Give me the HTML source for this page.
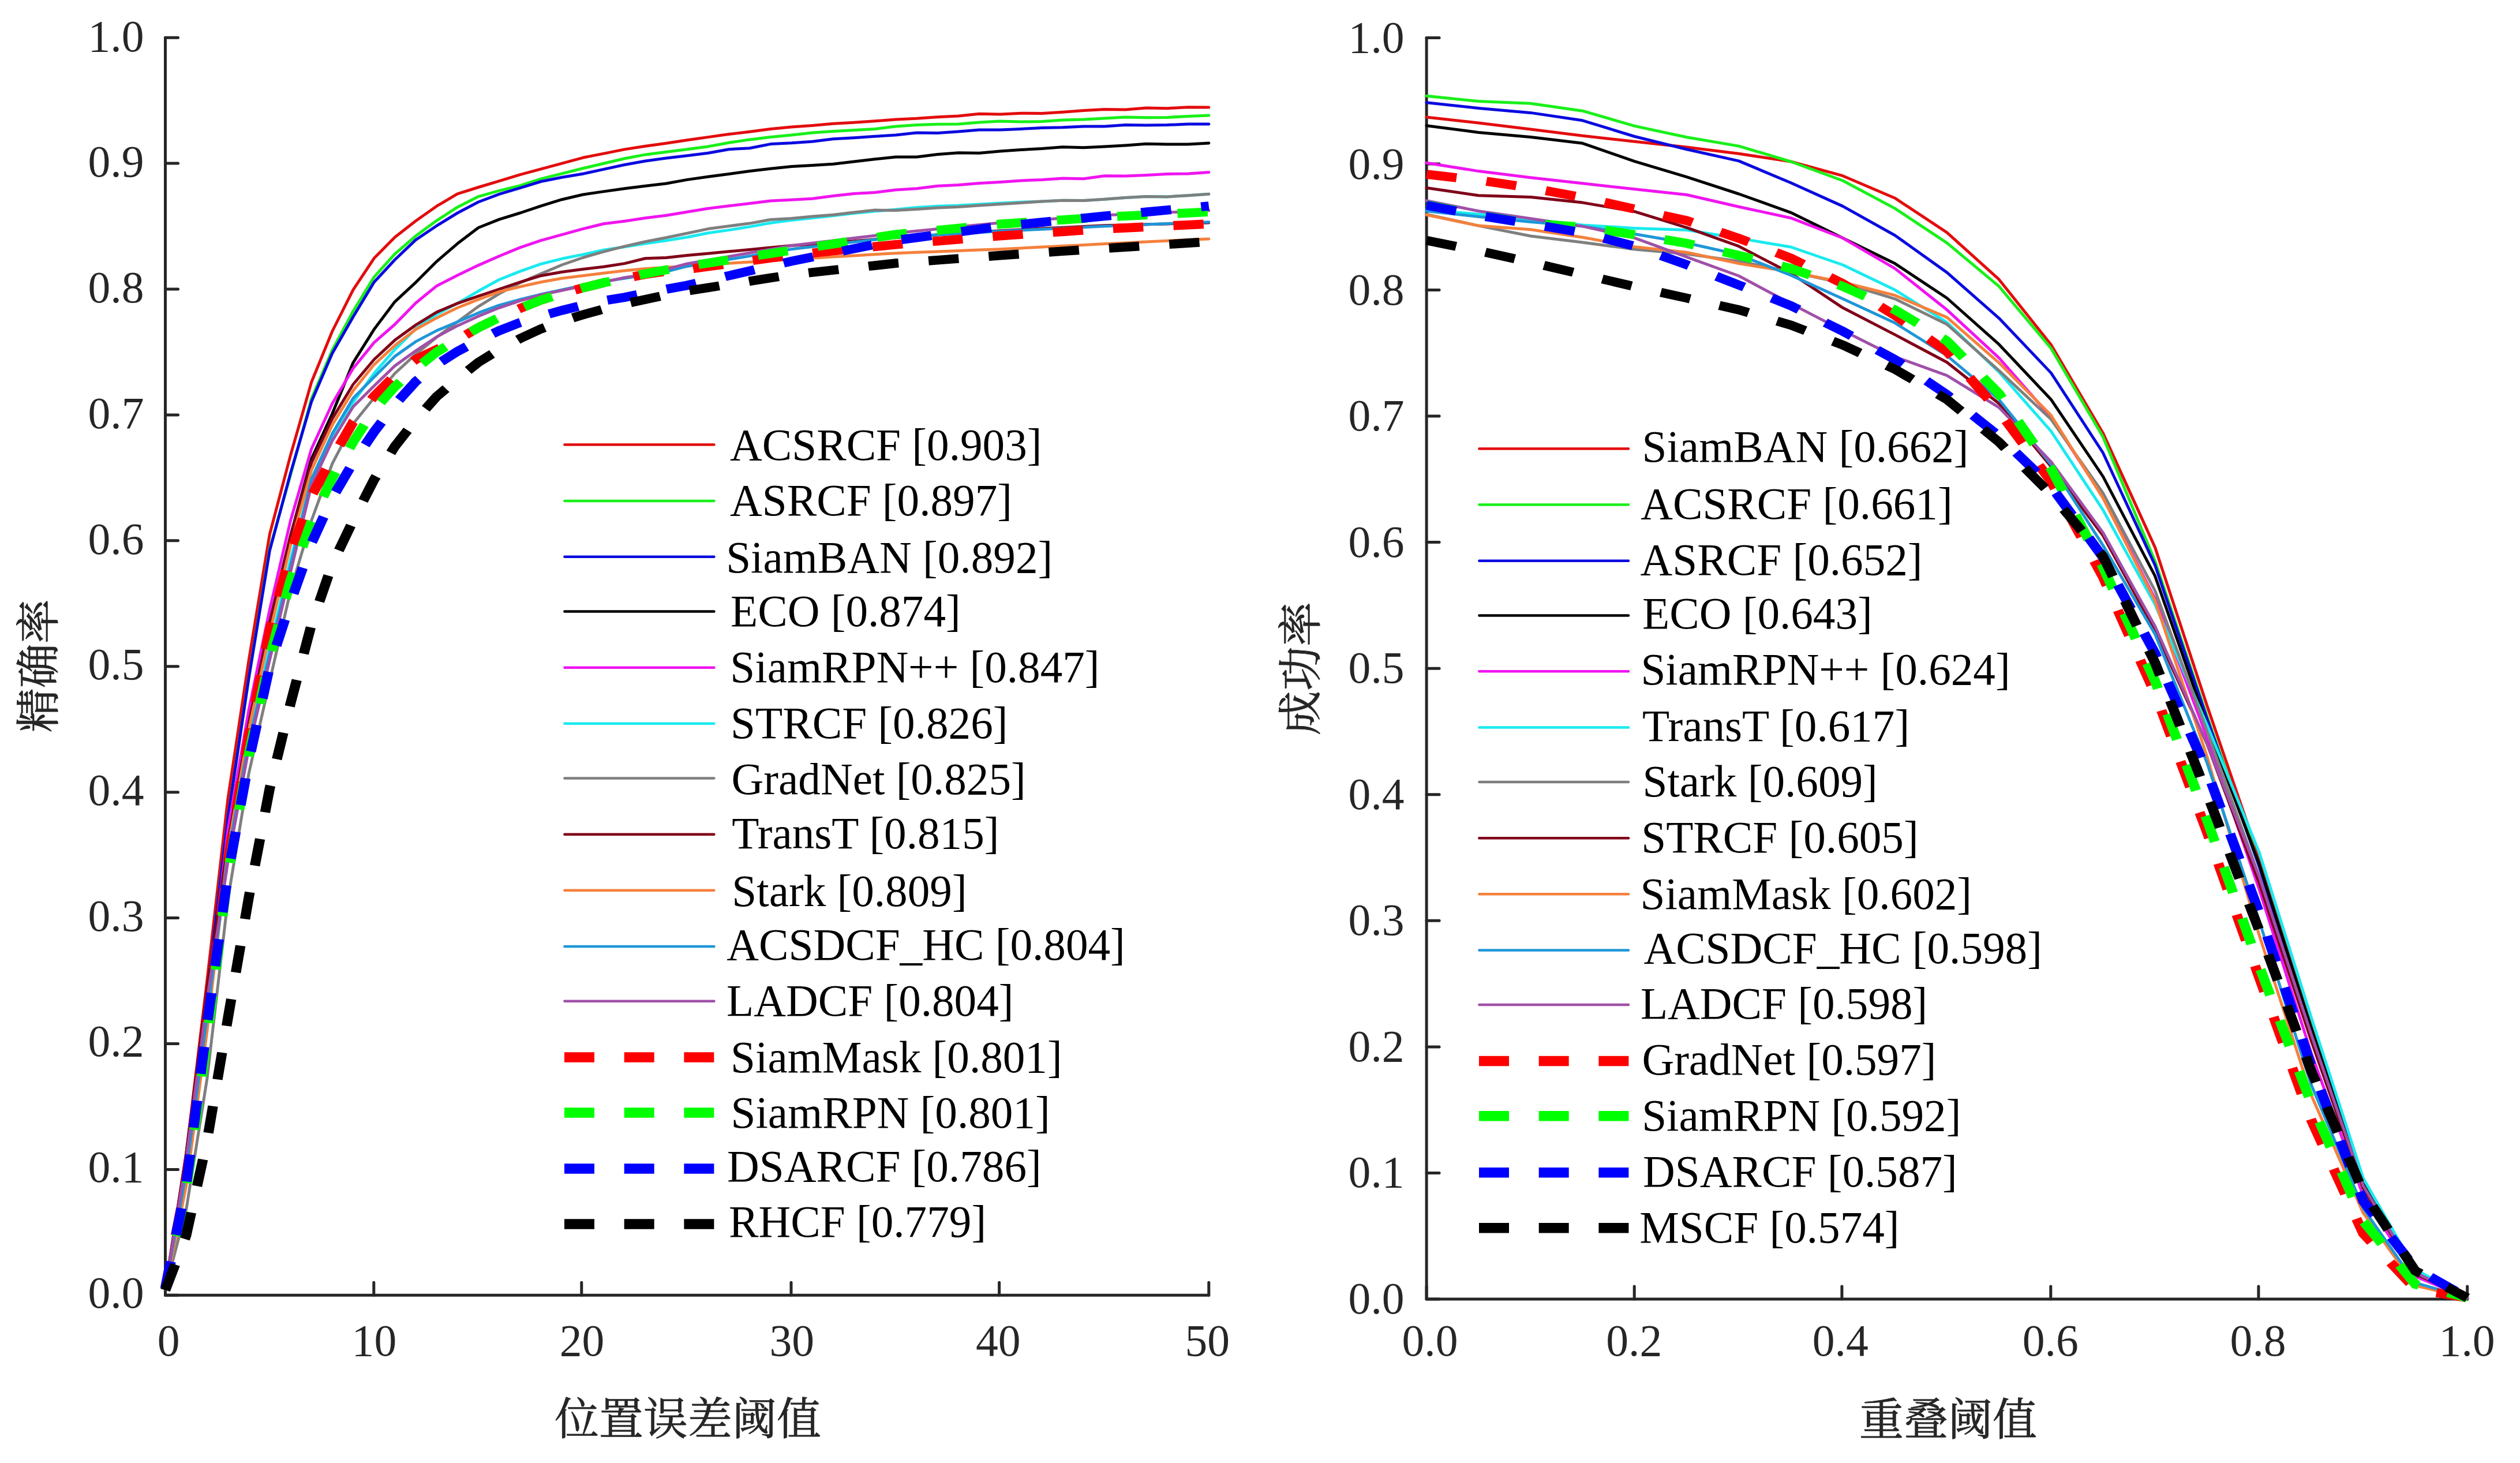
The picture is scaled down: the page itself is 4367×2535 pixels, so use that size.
<!DOCTYPE html>
<html lang="zh"><head><meta charset="utf-8"><title>精确率与成功率曲线</title>
<style>html,body{margin:0;padding:0;background:#fff}svg{display:block}text{font-family:"Liberation Serif","Noto Serif CJK SC",serif}.t{font-size:77.6px;fill:#262626}.l{font-size:77.2px;fill:#000}.c{font-size:77.0px;fill:#262626;font-weight:400;stroke:#262626;stroke-width:0.8px;font-family:"Noto Serif CJK SC","Liberation Serif",serif}</style></head><body>
<svg xmlns="http://www.w3.org/2000/svg" width="4367" height="2535" viewBox="0 0 4367 2535">
<rect width="4367" height="2535" fill="#fff"/>
<g fill="none" stroke="#262626" stroke-width="5.0" stroke-linecap="round" stroke-linejoin="round">
<path d="M286.5 65.2 L286.5 2244.3 L2094.8 2244.3"/>
<path d="M286.5 2244.3 h22.0"/>
<path d="M286.5 2026.4 h22.0"/>
<path d="M286.5 1808.5 h22.0"/>
<path d="M286.5 1590.6 h22.0"/>
<path d="M286.5 1372.7 h22.0"/>
<path d="M286.5 1154.8 h22.0"/>
<path d="M286.5 936.8 h22.0"/>
<path d="M286.5 718.9 h22.0"/>
<path d="M286.5 501.0 h22.0"/>
<path d="M286.5 283.1 h22.0"/>
<path d="M286.5 65.2 h22.0"/>
<path d="M286.5 2244.3 v-22.0"/>
<path d="M647.8 2244.3 v-22.0"/>
<path d="M1007.8 2244.3 v-22.0"/>
<path d="M1371.0 2244.3 v-22.0"/>
<path d="M1731.6 2244.3 v-22.0"/>
<path d="M2094.8 2244.3 v-22.0"/>
</g>
<text class="t" x="249.5" y="2265.7" text-anchor="end">0.0</text>
<text class="t" x="249.5" y="2048.0" text-anchor="end">0.1</text>
<text class="t" x="249.5" y="1830.3" text-anchor="end">0.2</text>
<text class="t" x="249.5" y="1612.6" text-anchor="end">0.3</text>
<text class="t" x="249.5" y="1394.9" text-anchor="end">0.4</text>
<text class="t" x="249.5" y="1177.2" text-anchor="end">0.5</text>
<text class="t" x="249.5" y="959.5" text-anchor="end">0.6</text>
<text class="t" x="249.5" y="741.8" text-anchor="end">0.7</text>
<text class="t" x="249.5" y="524.1" text-anchor="end">0.8</text>
<text class="t" x="249.5" y="306.4" text-anchor="end">0.9</text>
<text class="t" x="249.5" y="88.7" text-anchor="end">1.0</text>
<text class="t" x="292.2" y="2348.7" text-anchor="middle">0</text>
<text class="t" x="648.4" y="2348.7" text-anchor="middle">10</text>
<text class="t" x="1008.6" y="2348.7" text-anchor="middle">20</text>
<text class="t" x="1372.2" y="2348.7" text-anchor="middle">30</text>
<text class="t" x="1729.7" y="2348.7" text-anchor="middle">40</text>
<text class="t" x="2092.3" y="2348.7" text-anchor="middle">50</text>
<g fill="none" stroke="#262626" stroke-width="5.0" stroke-linecap="round" stroke-linejoin="round">
<path d="M2472.1 65.4 L2472.1 2251.0 L4275.7 2251.0"/>
<path d="M2472.1 2251.0 h22.0"/>
<path d="M2472.1 2032.4 h22.0"/>
<path d="M2472.1 1813.9 h22.0"/>
<path d="M2472.1 1595.3 h22.0"/>
<path d="M2472.1 1376.8 h22.0"/>
<path d="M2472.1 1158.2 h22.0"/>
<path d="M2472.1 939.6 h22.0"/>
<path d="M2472.1 721.1 h22.0"/>
<path d="M2472.1 502.5 h22.0"/>
<path d="M2472.1 284.0 h22.0"/>
<path d="M2472.1 65.4 h22.0"/>
<path d="M2472.1 2251.0 v-22.0"/>
<path d="M2832.2 2251.0 v-22.0"/>
<path d="M3191.9 2251.0 v-22.0"/>
<path d="M3553.8 2251.0 v-22.0"/>
<path d="M3913.9 2251.0 v-22.0"/>
<path d="M4275.7 2251.0 v-22.0"/>
</g>
<text class="t" x="2433.6" y="2275.7" text-anchor="end">0.0</text>
<text class="t" x="2433.6" y="2057.2" text-anchor="end">0.1</text>
<text class="t" x="2433.6" y="1838.8" text-anchor="end">0.2</text>
<text class="t" x="2433.6" y="1620.3" text-anchor="end">0.3</text>
<text class="t" x="2433.6" y="1401.8" text-anchor="end">0.4</text>
<text class="t" x="2433.6" y="1183.3" text-anchor="end">0.5</text>
<text class="t" x="2433.6" y="964.9" text-anchor="end">0.6</text>
<text class="t" x="2433.6" y="746.4" text-anchor="end">0.7</text>
<text class="t" x="2433.6" y="527.9" text-anchor="end">0.8</text>
<text class="t" x="2433.6" y="309.5" text-anchor="end">0.9</text>
<text class="t" x="2433.6" y="91.0" text-anchor="end">1.0</text>
<text class="t" x="2478.0" y="2348.7" text-anchor="middle">0.0</text>
<text class="t" x="2831.7" y="2348.7" text-anchor="middle">0.2</text>
<text class="t" x="3189.3" y="2348.7" text-anchor="middle">0.4</text>
<text class="t" x="3553.2" y="2348.7" text-anchor="middle">0.6</text>
<text class="t" x="3913.1" y="2348.7" text-anchor="middle">0.8</text>
<text class="t" x="4275.1" y="2348.7" text-anchor="middle">1.0</text>
<text class="c" x="1192" y="2485.5" text-anchor="middle">位置误差阈值</text>
<text class="c" x="3376" y="2487" text-anchor="middle">重叠阈值</text>
<text class="c" transform="translate(94.2 1153.7) rotate(-90)" text-anchor="middle">精确率</text>
<text class="c" transform="translate(2281.4 1158.4) rotate(-90)" text-anchor="middle">成功率</text>
<path d="M286.5 2232.3 L322.7 2000.2 L358.8 1699.5 L395.0 1383.6 L431.2 1143.9 L467.3 925.9 L503.5 788.7 L539.7 662.3 L575.8 574.0 L612.0 502.1 L648.2 447.6 L684.3 411.0 L720.5 382.7 L756.7 357.2 L792.8 335.8 L829.0 324.5 L865.2 313.6 L901.3 302.7 L937.5 292.9 L973.7 283.1 L1009.8 273.3 L1046.0 266.1 L1082.2 258.9 L1118.3 253.3 L1154.5 248.2 L1190.7 242.8 L1226.8 237.6 L1263.0 232.6 L1299.1 228.2 L1335.3 223.6 L1371.5 219.9 L1407.6 217.5 L1443.8 214.3 L1480.0 212.3 L1516.1 209.7 L1552.3 207.1 L1588.5 205.3 L1624.6 202.7 L1660.8 201.0 L1697.0 197.3 L1733.1 197.9 L1769.3 196.2 L1805.5 196.6 L1841.6 194.2 L1877.8 191.6 L1914.0 189.6 L1950.1 190.1 L1986.3 187.0 L2022.5 187.7 L2058.6 185.7 L2094.8 186.1" fill="none" stroke="#e30d0d" stroke-width="5.0" stroke-linecap="round" stroke-linejoin="round"/>
<path d="M286.5 2232.3 L322.7 2011.1 L358.8 1721.3 L395.0 1416.2 L431.2 1174.4 L467.3 951.2 L503.5 822.9 L539.7 691.0 L575.8 606.7 L612.0 539.2 L648.2 480.1 L684.3 440.0 L720.5 408.8 L756.7 382.3 L792.8 358.9 L829.0 340.6 L865.2 330.4 L901.3 321.7 L937.5 309.9 L973.7 300.8 L1009.8 291.8 L1046.0 283.3 L1082.2 274.8 L1118.3 267.9 L1154.5 263.3 L1190.7 258.7 L1226.8 253.9 L1263.0 247.2 L1299.1 241.9 L1335.3 237.6 L1371.5 233.9 L1407.6 229.9 L1443.8 227.5 L1480.0 225.6 L1516.1 223.4 L1552.3 219.0 L1588.5 216.6 L1624.6 215.3 L1660.8 214.9 L1697.0 211.9 L1733.1 209.9 L1769.3 211.0 L1805.5 210.5 L1841.6 208.1 L1877.8 207.1 L1914.0 204.9 L1950.1 202.9 L1986.3 203.8 L2022.5 203.4 L2058.6 201.4 L2094.8 199.9" fill="none" stroke="#19f019" stroke-width="5.0" stroke-linecap="round" stroke-linejoin="round"/>
<path d="M286.5 2232.3 L322.7 2011.1 L358.8 1721.3 L395.0 1416.2 L431.2 1174.4 L467.3 954.3 L503.5 819.6 L539.7 696.0 L575.8 612.2 L612.0 549.0 L648.2 489.0 L684.3 450.0 L720.5 415.6 L756.7 391.2 L792.8 369.0 L829.0 350.0 L865.2 336.3 L901.3 325.6 L937.5 314.5 L973.7 307.3 L1009.8 301.2 L1046.0 293.4 L1082.2 285.5 L1118.3 279.0 L1154.5 274.0 L1190.7 269.8 L1226.8 265.2 L1263.0 258.7 L1299.1 256.7 L1335.3 249.6 L1371.5 247.8 L1407.6 245.2 L1443.8 240.8 L1480.0 238.7 L1516.1 236.3 L1552.3 233.9 L1588.5 229.9 L1624.6 230.6 L1660.8 228.0 L1697.0 225.1 L1733.1 225.1 L1769.3 223.4 L1805.5 221.4 L1841.6 220.8 L1877.8 219.0 L1914.0 219.0 L1950.1 216.6 L1986.3 217.1 L2022.5 216.6 L2058.6 215.1 L2094.8 215.1" fill="none" stroke="#0a0ae0" stroke-width="5.0" stroke-linecap="round" stroke-linejoin="round"/>
<path d="M286.5 2232.3 L322.7 2026.4 L358.8 1747.5 L395.0 1459.8 L431.2 1252.8 L467.3 1078.5 L503.5 928.1 L539.7 795.2 L575.8 716.8 L612.0 628.3 L648.2 570.8 L684.3 522.8 L720.5 489.3 L756.7 453.1 L792.8 422.1 L829.0 394.5 L865.2 380.1 L901.3 369.0 L937.5 356.8 L973.7 345.7 L1009.8 337.2 L1046.0 331.9 L1082.2 326.7 L1118.3 322.3 L1154.5 318.0 L1190.7 311.4 L1226.8 306.2 L1263.0 301.4 L1299.1 296.6 L1335.3 292.3 L1371.5 288.6 L1407.6 286.6 L1443.8 284.2 L1480.0 280.1 L1516.1 275.7 L1552.3 272.0 L1588.5 272.0 L1624.6 267.6 L1660.8 264.8 L1697.0 265.2 L1733.1 262.0 L1769.3 259.6 L1805.5 257.6 L1841.6 254.8 L1877.8 255.7 L1914.0 253.9 L1950.1 251.9 L1986.3 249.3 L2022.5 250.0 L2058.6 250.0 L2094.8 248.0" fill="none" stroke="#000000" stroke-width="5.0" stroke-linecap="round" stroke-linejoin="round"/>
<path d="M286.5 2232.3 L322.7 2022.0 L358.8 1743.1 L395.0 1438.0 L431.2 1229.9 L467.3 1056.3 L503.5 902.0 L539.7 777.8 L575.8 699.3 L612.0 638.3 L648.2 593.6 L684.3 562.0 L720.5 525.0 L756.7 495.4 L792.8 477.0 L829.0 459.6 L865.2 443.7 L901.3 428.9 L937.5 416.7 L973.7 406.7 L1009.8 396.6 L1046.0 387.7 L1082.2 383.3 L1118.3 377.7 L1154.5 373.3 L1190.7 367.2 L1226.8 361.3 L1263.0 356.8 L1299.1 352.4 L1335.3 348.0 L1371.5 346.3 L1407.6 344.3 L1443.8 339.5 L1480.0 335.4 L1516.1 333.4 L1552.3 329.1 L1588.5 326.7 L1624.6 322.3 L1660.8 320.6 L1697.0 317.5 L1733.1 315.4 L1769.3 313.0 L1805.5 311.4 L1841.6 309.0 L1877.8 309.7 L1914.0 304.7 L1950.1 305.1 L1986.3 303.4 L2022.5 301.4 L2058.6 301.0 L2094.8 298.6" fill="none" stroke="#f014f0" stroke-width="5.0" stroke-linecap="round" stroke-linejoin="round"/>
<path d="M286.5 2232.3 L322.7 2037.3 L358.8 1775.8 L395.0 1481.6 L431.2 1285.5 L467.3 1122.1 L503.5 969.5 L539.7 832.2 L575.8 758.2 L612.0 697.1 L648.2 647.0 L684.3 605.6 L720.5 569.7 L756.7 544.6 L792.8 525.6 L829.0 504.3 L865.2 484.5 L901.3 470.1 L937.5 457.4 L973.7 448.3 L1009.8 441.1 L1046.0 433.2 L1082.2 427.8 L1118.3 422.1 L1154.5 416.7 L1190.7 411.0 L1226.8 403.8 L1263.0 398.6 L1299.1 392.9 L1335.3 386.2 L1371.5 381.4 L1407.6 377.7 L1443.8 373.8 L1480.0 369.6 L1516.1 366.1 L1552.3 362.9 L1588.5 359.6 L1624.6 357.2 L1660.8 356.1 L1697.0 354.1 L1733.1 352.0 L1769.3 350.2 L1805.5 348.9 L1841.6 347.2 L1877.8 347.6 L1914.0 345.2 L1950.1 342.4 L1986.3 340.4 L2022.5 340.9 L2058.6 338.7 L2094.8 336.3" fill="none" stroke="#19eaf0" stroke-width="5.0" stroke-linecap="round" stroke-linejoin="round"/>
<path d="M286.5 2233.4 L322.7 2096.1 L358.8 1869.5 L395.0 1557.9 L431.2 1340.0 L467.3 1180.9 L503.5 1023.4 L539.7 902.0 L575.8 803.3 L612.0 734.2 L648.2 689.5 L684.3 647.0 L720.5 613.7 L756.7 584.3 L792.8 557.7 L829.0 531.1 L865.2 508.9 L901.3 489.9 L937.5 474.4 L973.7 459.0 L1009.8 446.5 L1046.0 436.1 L1082.2 426.9 L1118.3 418.7 L1154.5 411.7 L1190.7 404.3 L1226.8 396.6 L1263.0 391.8 L1299.1 387.1 L1335.3 380.5 L1371.5 378.6 L1407.6 374.9 L1443.8 372.2 L1480.0 368.1 L1516.1 364.0 L1552.3 364.6 L1588.5 362.4 L1624.6 360.0 L1660.8 358.5 L1697.0 356.1 L1733.1 353.7 L1769.3 351.5 L1805.5 348.9 L1841.6 347.2 L1877.8 347.6 L1914.0 345.2 L1950.1 342.4 L1986.3 340.4 L2022.5 340.9 L2058.6 338.7 L2094.8 336.3" fill="none" stroke="#7f7f7f" stroke-width="5.0" stroke-linecap="round" stroke-linejoin="round"/>
<path d="M286.5 2232.3 L322.7 1998.1 L358.8 1714.8 L395.0 1459.8 L431.2 1252.8 L467.3 1079.1 L503.5 928.3 L539.7 801.7 L575.8 725.5 L612.0 666.0 L648.2 623.0 L684.3 589.3 L720.5 563.1 L756.7 540.9 L792.8 525.6 L829.0 513.2 L865.2 501.0 L901.3 488.8 L937.5 477.7 L973.7 471.2 L1009.8 466.6 L1046.0 462.2 L1082.2 456.6 L1118.3 447.8 L1154.5 446.5 L1190.7 442.6 L1226.8 439.2 L1263.0 435.8 L1299.1 432.4 L1335.3 429.0 L1371.5 425.6 L1407.6 423.2 L1443.8 420.8 L1480.0 417.8 L1516.1 414.7 L1552.3 411.7 L1588.5 409.3 L1624.6 406.9 L1660.8 404.5 L1697.0 402.1 L1733.1 399.7 L1769.3 397.9 L1805.5 396.1 L1841.6 394.3 L1877.8 392.5 L1914.0 390.8 L1950.1 389.8 L1986.3 388.8 L2022.5 387.9 L2058.6 386.9 L2094.8 386.0" fill="none" stroke="#800018" stroke-width="5.0" stroke-linecap="round" stroke-linejoin="round"/>
<path d="M286.5 2233.4 L322.7 2054.7 L358.8 1786.7 L395.0 1470.7 L431.2 1263.7 L467.3 1098.1 L503.5 944.7 L539.7 814.8 L575.8 736.4 L612.0 676.9 L648.2 631.8 L684.3 598.6 L720.5 570.8 L756.7 550.9 L792.8 533.3 L829.0 518.9 L865.2 505.6 L901.3 496.7 L937.5 488.8 L973.7 482.3 L1009.8 477.7 L1046.0 473.3 L1082.2 469.0 L1118.3 465.5 L1154.5 463.3 L1190.7 460.9 L1226.8 458.6 L1263.0 456.3 L1299.1 454.0 L1335.3 451.7 L1371.5 449.4 L1407.6 447.2 L1443.8 445.1 L1480.0 443.0 L1516.1 440.8 L1552.3 438.7 L1588.5 437.3 L1624.6 435.9 L1660.8 434.5 L1697.0 433.1 L1733.1 431.7 L1769.3 429.9 L1805.5 428.1 L1841.6 426.2 L1877.8 424.4 L1914.0 422.6 L1950.1 420.8 L1986.3 419.1 L2022.5 417.3 L2058.6 415.6 L2094.8 413.9" fill="none" stroke="#f5803c" stroke-width="5.0" stroke-linecap="round" stroke-linejoin="round"/>
<path d="M286.5 2232.3 L322.7 2030.7 L358.8 1760.5 L395.0 1481.6 L431.2 1285.5 L467.3 1133.0 L503.5 980.4 L539.7 830.1 L575.8 751.6 L612.0 689.9 L648.2 653.6 L684.3 617.4 L720.5 591.9 L756.7 572.9 L792.8 557.7 L829.0 542.2 L865.2 528.9 L901.3 518.9 L937.5 510.0 L973.7 502.1 L1009.8 494.5 L1046.0 487.7 L1082.2 482.3 L1118.3 476.6 L1154.5 470.5 L1190.7 461.4 L1226.8 455.4 L1263.0 449.5 L1299.1 443.6 L1335.3 437.7 L1371.5 431.7 L1407.6 427.6 L1443.8 423.4 L1480.0 419.3 L1516.1 415.2 L1552.3 411.0 L1588.5 408.9 L1624.6 406.8 L1660.8 404.7 L1697.0 402.7 L1733.1 400.6 L1769.3 398.9 L1805.5 397.2 L1841.6 395.5 L1877.8 393.8 L1914.0 392.1 L1950.1 390.6 L1986.3 389.1 L2022.5 387.6 L2058.6 386.1 L2094.8 384.7" fill="none" stroke="#1e96d8" stroke-width="5.0" stroke-linecap="round" stroke-linejoin="round"/>
<path d="M286.5 2232.3 L322.7 2009.0 L358.8 1732.2 L395.0 1492.5 L431.2 1296.4 L467.3 1143.9 L503.5 991.3 L539.7 841.0 L575.8 763.8 L612.0 704.8 L648.2 668.8 L684.3 633.9 L720.5 607.8 L756.7 583.8 L792.8 564.4 L829.0 547.9 L865.2 533.3 L901.3 521.1 L937.5 511.0 L973.7 503.2 L1009.8 495.6 L1046.0 488.8 L1082.2 481.0 L1118.3 475.5 L1154.5 466.6 L1190.7 457.0 L1226.8 450.7 L1263.0 444.5 L1299.1 438.2 L1335.3 431.9 L1371.5 425.6 L1407.6 421.3 L1443.8 416.9 L1480.0 412.5 L1516.1 408.2 L1552.3 403.8 L1588.5 400.3 L1624.6 396.7 L1660.8 393.1 L1697.0 389.5 L1733.1 386.0 L1769.3 383.3 L1805.5 380.7 L1841.6 378.1 L1877.8 375.5 L1914.0 372.9 L1950.1 371.3 L1986.3 369.7 L2022.5 368.1 L2058.6 366.4 L2094.8 364.8" fill="none" stroke="#a050a8" stroke-width="5.0" stroke-linecap="round" stroke-linejoin="round"/>
<g transform="scale(1 0.8913)"><path d="M286.5 2504.56 L322.7 2297.97 L358.8 1992.36 L395.0 1674.53 L431.2 1431.76 L467.3 1225.41 L503.5 1074.56 L539.7 964.30 L575.8 890.22 L612.0 820.30 L648.2 770.42 L684.3 730.08 L720.5 698.79 L756.7 679.48 L792.8 660.65 L829.0 636.94 L865.2 617.13 L901.3 599.53 L937.5 583.39 L973.7 570.92 L1009.8 559.68 L1046.0 549.65 L1082.2 541.10 L1118.3 533.27 L1154.5 527.41 L1190.7 523.74 L1226.8 518.21 L1263.0 512.69 L1299.1 507.16 L1335.3 501.64 L1371.5 496.11 L1407.6 491.96 L1443.8 487.80 L1480.0 483.64 L1516.1 479.49 L1552.3 475.33 L1588.5 471.96 L1624.6 468.58 L1660.8 465.21 L1697.0 461.83 L1733.1 458.46 L1769.3 455.77 L1805.5 453.08 L1841.6 450.39 L1877.8 447.70 L1914.0 445.01 L1950.1 443.06 L1986.3 441.10 L2022.5 439.15 L2058.6 437.19 L2094.8 435.23" fill="none" stroke="#ff0000" stroke-width="17.5" stroke-linecap="butt" stroke-linejoin="miter" stroke-dasharray="52.4 52.2" stroke-dashoffset="0"/></g>
<g transform="scale(1 0.8908)"><path d="M286.5 2507.19 L322.7 2313.94 L358.8 2017.94 L395.0 1699.93 L431.2 1467.54 L467.3 1279.67 L503.5 1128.74 L539.7 1014.50 L575.8 929.37 L612.0 859.41 L648.2 797.28 L684.3 752.02 L720.5 717.04 L756.7 684.75 L792.8 661.02 L829.0 637.29 L865.2 617.48 L901.3 599.87 L937.5 583.72 L973.7 571.24 L1009.8 559.99 L1046.0 549.96 L1082.2 541.40 L1118.3 532.59 L1154.5 525.01 L1190.7 517.92 L1226.8 511.70 L1263.0 505.49 L1299.1 499.28 L1335.3 493.06 L1371.5 486.85 L1407.6 480.69 L1443.8 474.52 L1480.0 468.36 L1516.1 462.19 L1552.3 456.03 L1588.5 452.02 L1624.6 448.00 L1660.8 443.99 L1697.0 439.98 L1733.1 435.97 L1769.3 433.18 L1805.5 430.39 L1841.6 427.60 L1877.8 424.81 L1914.0 422.02 L1950.1 420.07 L1986.3 418.11 L2022.5 416.15 L2058.6 414.20 L2094.8 412.24" fill="none" stroke="#00ff00" stroke-width="17.5" stroke-linecap="butt" stroke-linejoin="miter" stroke-dasharray="52.4 52.2" stroke-dashoffset="0"/></g>
<g transform="scale(1 0.8985)"><path d="M286.5 2484.49 L322.7 2284.41 L358.8 1976.40 L395.0 1685.37 L431.2 1467.09 L467.3 1285.20 L503.5 1161.02 L539.7 1047.76 L575.8 960.21 L612.0 892.06 L648.2 832.89 L684.3 780.26 L720.5 735.63 L756.7 703.13 L792.8 677.67 L829.0 656.57 L865.2 637.65 L901.3 621.89 L937.5 609.76 L973.7 598.61 L1009.8 588.66 L1046.0 579.93 L1082.2 573.38 L1118.3 565.14 L1154.5 557.62 L1190.7 550.34 L1226.8 541.03 L1263.0 531.72 L1299.1 522.40 L1335.3 513.09 L1371.5 503.78 L1407.6 495.73 L1443.8 487.67 L1480.0 479.62 L1516.1 471.57 L1552.3 463.52 L1588.5 458.13 L1624.6 452.75 L1660.8 447.37 L1697.0 441.98 L1733.1 436.60 L1769.3 432.62 L1805.5 428.64 L1841.6 424.67 L1877.8 420.69 L1914.0 416.71 L1950.1 412.83 L1986.3 408.95 L2022.5 405.07 L2058.6 401.19 L2094.8 397.31" fill="none" stroke="#0000ff" stroke-width="17.5" stroke-linecap="butt" stroke-linejoin="miter" stroke-dasharray="52.4 52.2" stroke-dashoffset="0"/></g>
<g transform="scale(1 0.8963)"><path d="M286.5 2494.24 L322.7 2388.23 L358.8 2205.41 L395.0 1968.12 L431.2 1734.48 L467.3 1524.67 L503.5 1359.59 L539.7 1207.64 L575.8 1090.69 L612.0 1006.33 L648.2 927.32 L684.3 862.89 L720.5 811.83 L756.7 766.61 L792.8 732.58 L829.0 700.48 L865.2 675.69 L901.3 654.53 L937.5 635.81 L973.7 620.98 L1009.8 608.58 L1046.0 597.40 L1082.2 587.43 L1118.3 578.92 L1154.5 570.17 L1190.7 562.39 L1226.8 556.12 L1263.0 549.85 L1299.1 543.57 L1335.3 537.30 L1371.5 531.03 L1407.6 526.60 L1443.8 522.18 L1480.0 517.75 L1516.1 513.33 L1552.3 508.90 L1588.5 505.89 L1624.6 502.87 L1660.8 499.86 L1697.0 496.85 L1733.1 493.83 L1769.3 491.11 L1805.5 488.38 L1841.6 485.66 L1877.8 482.94 L1914.0 480.22 L1950.1 477.64 L1986.3 475.06 L2022.5 472.48 L2058.6 469.91 L2094.8 467.33" fill="none" stroke="#000000" stroke-width="17.5" stroke-linecap="butt" stroke-linejoin="miter" stroke-dasharray="52.4 52.2" stroke-dashoffset="0"/></g>
<path d="M2472.1 202.9 L2562.3 212.9 L2652.5 224.1 L2742.6 235.2 L2832.8 245.3 L2923.0 255.1 L3013.2 266.3 L3103.4 280.0 L3193.5 304.7 L3283.7 343.2 L3373.9 402.9 L3464.1 484.2 L3554.3 597.2 L3644.4 750.4 L3734.6 948.6 L3824.8 1223.1 L3915.0 1486.0 L4005.2 1765.8 L4095.3 2043.4 L4185.5 2200.7 L4275.7 2248.8" fill="none" stroke="#e30d0d" stroke-width="5.0" stroke-linecap="round" stroke-linejoin="round"/>
<path d="M2472.1 166.2 L2562.3 175.6 L2652.5 179.3 L2742.6 192.2 L2832.8 218.4 L2923.0 237.8 L3013.2 253.1 L3103.4 280.0 L3193.5 313.0 L3283.7 361.1 L3373.9 420.8 L3464.1 496.2 L3554.3 603.5 L3644.4 757.1 L3734.6 972.4 L3824.8 1241.5 L3915.0 1497.0 L4005.2 1781.1 L4095.3 2049.9 L4185.5 2202.9 L4275.7 2248.8" fill="none" stroke="#19f019" stroke-width="5.0" stroke-linecap="round" stroke-linejoin="round"/>
<path d="M2472.1 177.7 L2562.3 187.4 L2652.5 195.4 L2742.6 208.8 L2832.8 236.5 L2923.0 258.8 L3013.2 278.9 L3103.4 316.7 L3193.5 357.4 L3283.7 407.7 L3373.9 472.1 L3464.1 551.3 L3554.3 646.1 L3644.4 784.7 L3734.6 979.4 L3824.8 1245.6 L3915.0 1501.3 L4005.2 1785.5 L4095.3 2054.3 L4185.5 2205.1 L4275.7 2248.8" fill="none" stroke="#0a0ae0" stroke-width="5.0" stroke-linecap="round" stroke-linejoin="round"/>
<path d="M2472.1 217.7 L2562.3 229.5 L2652.5 237.4 L2742.6 248.3 L2832.8 279.6 L2923.0 306.7 L3013.2 336.0 L3103.4 368.3 L3193.5 412.5 L3283.7 456.6 L3373.9 516.5 L3464.1 596.7 L3554.3 692.2 L3644.4 825.6 L3734.6 998.2 L3824.8 1256.6 L3915.0 1497.0 L4005.2 1781.1 L4095.3 2049.9 L4185.5 2200.7 L4275.7 2248.8" fill="none" stroke="#000000" stroke-width="5.0" stroke-linecap="round" stroke-linejoin="round"/>
<path d="M2472.1 282.2 L2562.3 296.6 L2652.5 307.8 L2742.6 317.8 L2832.8 327.7 L2923.0 337.5 L3013.2 358.3 L3103.4 377.7 L3193.5 412.5 L3283.7 465.1 L3373.9 536.8 L3464.1 620.1 L3554.3 723.0 L3644.4 861.4 L3734.6 1037.6 L3824.8 1278.4 L3915.0 1540.7 L4005.2 1824.8 L4095.3 2071.8 L4185.5 2211.7 L4275.7 2248.8" fill="none" stroke="#f014f0" stroke-width="5.0" stroke-linecap="round" stroke-linejoin="round"/>
<path d="M2472.1 363.3 L2562.3 371.2 L2652.5 380.1 L2742.6 390.0 L2832.8 395.4 L2923.0 398.5 L3013.2 412.9 L3103.4 428.0 L3193.5 459.0 L3283.7 502.3 L3373.9 558.5 L3464.1 644.6 L3554.3 747.1 L3644.4 883.7 L3734.6 1047.6 L3824.8 1256.6 L3915.0 1476.6 L4005.2 1762.7 L4095.3 2041.6 L4185.5 2199.6 L4275.7 2248.8" fill="none" stroke="#19eaf0" stroke-width="5.0" stroke-linecap="round" stroke-linejoin="round"/>
<path d="M2472.1 371.4 L2562.3 391.1 L2652.5 409.0 L2742.6 419.9 L2832.8 432.1 L2923.0 440.0 L3013.2 452.7 L3103.4 471.0 L3193.5 490.5 L3283.7 517.8 L3373.9 562.0 L3464.1 642.2 L3554.3 726.5 L3644.4 854.4 L3734.6 1023.8 L3824.8 1267.5 L3915.0 1518.8 L4005.2 1803.0 L4095.3 2060.9 L4185.5 2207.3 L4275.7 2248.8" fill="none" stroke="#7f7f7f" stroke-width="5.0" stroke-linecap="round" stroke-linejoin="round"/>
<path d="M2472.1 325.5 L2562.3 338.8 L2652.5 341.4 L2742.6 351.1 L2832.8 366.6 L2923.0 394.3 L3013.2 426.7 L3103.4 473.5 L3193.5 533.3 L3283.7 579.9 L3373.9 627.8 L3464.1 699.2 L3554.3 808.5 L3644.4 928.1 L3734.6 1092.6 L3824.8 1289.3 L3915.0 1529.8 L4005.2 1803.0 L4095.3 2058.7 L4185.5 2207.3 L4275.7 2248.8" fill="none" stroke="#800018" stroke-width="5.0" stroke-linecap="round" stroke-linejoin="round"/>
<path d="M2472.1 372.3 L2562.3 391.1 L2652.5 397.8 L2742.6 411.2 L2832.8 427.8 L2923.0 437.2 L3013.2 456.6 L3103.4 471.0 L3193.5 489.0 L3283.7 511.7 L3373.9 549.9 L3464.1 628.6 L3554.3 719.6 L3644.4 863.1 L3734.6 1040.8 L3824.8 1311.2 L3915.0 1620.0 L4005.2 1897.6 L4095.3 2101.9 L4185.5 2227.6 L4275.7 2248.8" fill="none" stroke="#f5803c" stroke-width="5.0" stroke-linecap="round" stroke-linejoin="round"/>
<path d="M2472.1 365.7 L2562.3 375.5 L2652.5 384.5 L2742.6 392.1 L2832.8 405.5 L2923.0 421.0 L3013.2 441.3 L3103.4 476.9 L3193.5 517.8 L3283.7 559.6 L3373.9 616.2 L3464.1 692.2 L3554.3 805.0 L3644.4 945.1 L3734.6 1099.0 L3824.8 1322.1 L3915.0 1595.3 L4005.2 1879.4 L4095.3 2093.6 L4185.5 2222.6 L4275.7 2248.8" fill="none" stroke="#1e96d8" stroke-width="5.0" stroke-linecap="round" stroke-linejoin="round"/>
<path d="M2472.1 347.8 L2562.3 365.7 L2652.5 378.8 L2742.6 392.1 L2832.8 412.3 L2923.0 445.3 L3013.2 478.0 L3103.4 526.1 L3193.5 572.7 L3283.7 618.1 L3373.9 650.7 L3464.1 706.0 L3554.3 800.0 L3644.4 923.0 L3734.6 1085.2 L3824.8 1289.3 L3915.0 1518.8 L4005.2 1792.0 L4095.3 2054.3 L4185.5 2205.1 L4275.7 2248.8" fill="none" stroke="#a050a8" stroke-width="5.0" stroke-linecap="round" stroke-linejoin="round"/>
<g transform="scale(1 0.89)"><path d="M2472.1 339.44 L2562.3 350.74 L2652.5 365.72 L2742.6 384.38 L2832.8 406.97 L2923.0 429.56 L3013.2 463.94 L3103.4 502.50 L3193.5 552.10 L3283.7 613.99 L3373.9 684.22 L3464.1 800.87 L3554.3 937.16 L3644.4 1123.55 L3734.6 1350.46 L3824.8 1620.59 L3915.0 1903.00 L4005.2 2180.50 L4095.3 2401.52 L4185.5 2509.57 L4275.7 2526.76" fill="none" stroke="#ff0000" stroke-width="17.5" stroke-linecap="butt" stroke-linejoin="miter" stroke-dasharray="52.4 52.2" stroke-dashoffset="0"/></g>
<g transform="scale(1 0.89)"><path d="M2472.1 398.62 L2562.3 418.76 L2652.5 435.21 L2742.6 441.84 L2832.8 456.82 L2923.0 473.77 L3013.2 497.10 L3103.4 522.64 L3193.5 557.51 L3283.7 603.18 L3373.9 663.60 L3464.1 766.24 L3554.3 912.36 L3644.4 1104.15 L3734.6 1325.91 L3824.8 1596.77 L3915.0 1880.90 L4005.2 2147.84 L4095.3 2377.45 L4185.5 2500.24 L4275.7 2526.76" fill="none" stroke="#00ff00" stroke-width="17.5" stroke-linecap="butt" stroke-linejoin="miter" stroke-dasharray="52.4 52.2" stroke-dashoffset="0"/></g>
<g transform="scale(1 0.89)"><path d="M2472.1 399.60 L2562.3 419.50 L2652.5 435.70 L2742.6 453.14 L2832.8 479.42 L2923.0 515.51 L3013.2 554.81 L3103.4 595.08 L3193.5 644.93 L3283.7 699.94 L3373.9 768.21 L3464.1 849.00 L3554.3 946.74 L3644.4 1085.00 L3734.6 1271.88 L3824.8 1502.23 L3915.0 1776.53 L4005.2 2074.66 L4095.3 2338.40 L4185.5 2469.05 L4275.7 2526.76" fill="none" stroke="#0000ff" stroke-width="17.5" stroke-linecap="butt" stroke-linejoin="miter" stroke-dasharray="52.4 52.2" stroke-dashoffset="0"/></g>
<g transform="scale(1 0.89)"><path d="M2472.1 468.12 L2562.3 488.26 L2652.5 510.60 L2742.6 534.42 L2832.8 558.00 L2923.0 580.35 L3013.2 603.18 L3103.4 632.90 L3193.5 671.70 L3283.7 718.85 L3373.9 777.79 L3464.1 860.54 L3554.3 962.21 L3644.4 1083.03 L3734.6 1290.30 L3824.8 1546.18 L3915.0 1811.16 L4005.2 2084.97 L4095.3 2320.23 L4185.5 2474.21 L4275.7 2526.76" fill="none" stroke="#000000" stroke-width="17.5" stroke-linecap="butt" stroke-linejoin="miter" stroke-dasharray="52.4 52.2" stroke-dashoffset="0"/></g>
<path d="M978.4 770.4 H1237.4" stroke="#e30d0d" stroke-width="4.5" stroke-linecap="round" fill="none"/>
<text class="l" x="1265.0" y="796.7">ACSRCF [0.903]</text>
<path d="M978.4 868.0 H1237.4" stroke="#19f019" stroke-width="4.5" stroke-linecap="round" fill="none"/>
<text class="l" x="1265.0" y="892.9">ASRCF [0.897]</text>
<path d="M978.4 964.7 H1237.4" stroke="#0a0ae0" stroke-width="4.5" stroke-linecap="round" fill="none"/>
<text class="l" x="1258.2" y="991.6">SiamBAN [0.892]</text>
<path d="M978.4 1059.6 H1237.4" stroke="#000000" stroke-width="4.5" stroke-linecap="round" fill="none"/>
<text class="l" x="1266.0" y="1085.3">ECO [0.874]</text>
<path d="M978.4 1156.7 H1237.4" stroke="#f014f0" stroke-width="4.5" stroke-linecap="round" fill="none"/>
<text class="l" x="1265.3" y="1182.3">SiamRPN++ [0.847]</text>
<path d="M978.4 1253.8 H1237.4" stroke="#19eaf0" stroke-width="4.5" stroke-linecap="round" fill="none"/>
<text class="l" x="1266.1" y="1278.5">STRCF [0.826]</text>
<path d="M978.4 1348.6 H1237.4" stroke="#7f7f7f" stroke-width="4.5" stroke-linecap="round" fill="none"/>
<text class="l" x="1267.6" y="1375.5">GradNet [0.825]</text>
<path d="M978.4 1445.7 H1237.4" stroke="#800018" stroke-width="4.5" stroke-linecap="round" fill="none"/>
<text class="l" x="1268.3" y="1470.0">TransT [0.815]</text>
<path d="M978.4 1542.8 H1237.4" stroke="#f5803c" stroke-width="4.5" stroke-linecap="round" fill="none"/>
<text class="l" x="1268.3" y="1569.6">Stark [0.809]</text>
<path d="M978.4 1639.9 H1237.4" stroke="#1e96d8" stroke-width="4.5" stroke-linecap="round" fill="none"/>
<text class="l" x="1259.3" y="1662.9">ACSDCF_HC [0.804]</text>
<path d="M978.4 1734.8 H1237.4" stroke="#a050a8" stroke-width="4.5" stroke-linecap="round" fill="none"/>
<text class="l" x="1259.1" y="1760.4">LADCF [0.804]</text>
<path d="M978.0 1831.9 H1237.8" stroke="#ff0000" stroke-width="17.5" stroke-dasharray="52 51.7" fill="none"/>
<text class="l" x="1266.1" y="1857.5">SiamMask [0.801]</text>
<path d="M978.0 1928.0 H1237.8" stroke="#00ff00" stroke-width="17.5" stroke-dasharray="52 51.7" fill="none"/>
<text class="l" x="1266.5" y="1953.5">SiamRPN [0.801]</text>
<path d="M978.0 2024.9 H1237.8" stroke="#0000ff" stroke-width="17.5" stroke-dasharray="52 51.7" fill="none"/>
<text class="l" x="1260.0" y="2047.2">DSARCF [0.786]</text>
<path d="M978.0 2121.0 H1237.8" stroke="#000000" stroke-width="17.5" stroke-dasharray="52 51.7" fill="none"/>
<text class="l" x="1263.1" y="2143.4">RHCF [0.779]</text>
<path d="M2563.4 777.5 H2822.0" stroke="#e30d0d" stroke-width="4.5" stroke-linecap="round" fill="none"/>
<text class="l" x="2845.5" y="799.7">SiamBAN [0.662]</text>
<path d="M2563.4 874.6 H2822.0" stroke="#19f019" stroke-width="4.5" stroke-linecap="round" fill="none"/>
<text class="l" x="2843.2" y="898.9">ACSRCF [0.661]</text>
<path d="M2563.4 971.7 H2822.0" stroke="#0a0ae0" stroke-width="4.5" stroke-linecap="round" fill="none"/>
<text class="l" x="2842.6" y="995.6">ASRCF [0.652]</text>
<path d="M2563.4 1066.6 H2822.0" stroke="#000000" stroke-width="4.5" stroke-linecap="round" fill="none"/>
<text class="l" x="2846.0" y="1088.8">ECO [0.643]</text>
<path d="M2563.4 1163.3 H2822.0" stroke="#f014f0" stroke-width="4.5" stroke-linecap="round" fill="none"/>
<text class="l" x="2843.4" y="1186.4">SiamRPN++ [0.624]</text>
<path d="M2563.4 1260.4 H2822.0" stroke="#19eaf0" stroke-width="4.5" stroke-linecap="round" fill="none"/>
<text class="l" x="2846.0" y="1283.5">TransT [0.617]</text>
<path d="M2563.4 1355.1 H2822.0" stroke="#7f7f7f" stroke-width="4.5" stroke-linecap="round" fill="none"/>
<text class="l" x="2846.5" y="1380.4">Stark [0.609]</text>
<path d="M2563.4 1452.2 H2822.0" stroke="#800018" stroke-width="4.5" stroke-linecap="round" fill="none"/>
<text class="l" x="2844.3" y="1476.7">STRCF [0.605]</text>
<path d="M2563.4 1549.3 H2822.0" stroke="#f5803c" stroke-width="4.5" stroke-linecap="round" fill="none"/>
<text class="l" x="2842.5" y="1575.1">SiamMask [0.602]</text>
<path d="M2563.4 1646.5 H2822.0" stroke="#1e96d8" stroke-width="4.5" stroke-linecap="round" fill="none"/>
<text class="l" x="2848.4" y="1669.1">ACSDCF_HC [0.598]</text>
<path d="M2563.4 1740.9 H2822.0" stroke="#a050a8" stroke-width="4.5" stroke-linecap="round" fill="none"/>
<text class="l" x="2842.9" y="1764.5">LADCF [0.598]</text>
<path d="M2563.0 1838.5 H2822.4" stroke="#ff0000" stroke-width="17.5" stroke-dasharray="52 51.7" fill="none"/>
<text class="l" x="2845.4" y="1861.6">GradNet [0.597]</text>
<path d="M2563.0 1933.7 H2822.4" stroke="#00ff00" stroke-width="17.5" stroke-dasharray="52 51.7" fill="none"/>
<text class="l" x="2845.2" y="1958.8">SiamRPN [0.592]</text>
<path d="M2563.0 2031.8 H2822.4" stroke="#0000ff" stroke-width="17.5" stroke-dasharray="52 51.7" fill="none"/>
<text class="l" x="2847.1" y="2055.9">DSARCF [0.587]</text>
<path d="M2563.0 2127.8 H2822.4" stroke="#000000" stroke-width="17.5" stroke-dasharray="52 51.7" fill="none"/>
<text class="l" x="2841.2" y="2152.7">MSCF [0.574]</text>
</svg></body></html>
